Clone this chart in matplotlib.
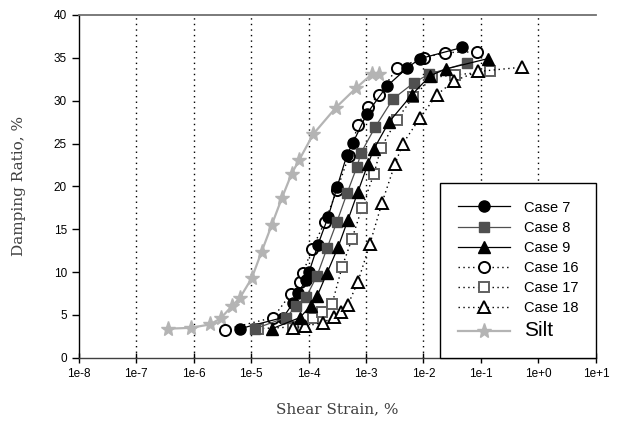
import numpy as np
import matplotlib
matplotlib.use("Agg")
import matplotlib.pyplot as plt
from matplotlib.ticker import FixedLocator, FixedFormatter

plt.rcParams['font.family'] = ['Liberation Sans', 'DejaVu Sans']

# data (strain %, damping %)
case7_x = [6.4e-6, 3.6e-5, 5.4e-5, 6.6e-5, 9.1e-5, 1.02e-4, 1.46e-4, 2.18e-4, 3.13e-4,
           4.68e-4, 5.94e-4, 1.04e-3, 2.32e-3, 5.16e-3, 8.7e-3, 4.68e-2]
case7_y = [3.4, 4.7, 6.4, 7.6, 9.1, 10.0, 13.2, 16.4, 19.9, 23.7, 25.1, 28.5, 31.7, 33.8, 34.9, 36.2]

case8_x = [1.17e-5, 4.06e-5, 6.07e-5, 9.1e-5, 1.41e-4, 2.1e-4, 3.13e-4, 4.68e-4, 6.97e-4,
           8.18e-4, 1.44e-3, 2.95e-3, 6.84e-3, 1.25e-2, 5.7e-2]
case8_y = [3.4, 4.7, 6.0, 7.1, 9.6, 12.8, 15.9, 19.2, 22.3, 23.9, 26.9, 30.2, 32.1, 33.1, 34.4]

case9_x = [2.32e-5, 7.1e-5, 1.10e-4, 1.41e-4, 2.1e-4, 3.26e-4, 4.86e-4, 7.26e-4, 1.08e-3,
           1.38e-3, 2.51e-3, 6.31e-3, 1.30e-2, 2.46e-2, 0.132]
case9_y = [3.4, 4.7, 6.1, 7.2, 9.9, 12.9, 16.1, 19.4, 22.6, 24.4, 27.5, 30.7, 32.9, 33.7, 34.9]

case16_x = [3.53e-6, 2.42e-5, 4.97e-5, 7.1e-5, 8.0e-5, 1.15e-4, 1.94e-4, 3.13e-4, 5.06e-4,
            7.26e-4, 1.08e-3, 1.68e-3, 3.46e-3, 1.02e-2, 2.37e-2, 8.5e-2]
case16_y = [3.3, 4.7, 7.5, 8.9, 9.9, 12.7, 15.9, 19.6, 23.6, 27.2, 29.3, 30.7, 33.8, 35.0, 35.6, 35.7]

case17_x = [1.32e-5, 5.4e-5, 1.20e-4, 1.72e-4, 2.57e-4, 3.83e-4, 5.72e-4, 8.51e-4, 1.38e-3,
            1.82e-3, 3.46e-3, 6.56e-3, 1.41e-2, 3.53e-2, 0.144]
case17_y = [3.4, 3.6, 4.6, 5.3, 6.3, 10.6, 13.9, 17.5, 21.5, 24.5, 27.8, 30.4, 32.7, 33.0, 33.4]

case18_x = [5.4e-5, 8.69e-5, 1.79e-4, 2.77e-4, 3.67e-4, 4.86e-4, 7.26e-4, 1.17e-3, 1.90e-3,
            3.19e-3, 4.40e-3, 8.7e-3, 1.72e-2, 3.39e-2, 8.87e-2, 0.516]
case18_y = [3.5, 3.7, 4.1, 4.8, 5.3, 6.2, 8.9, 13.3, 18.1, 22.6, 25.0, 28.0, 30.7, 32.3, 33.4, 33.9]

silt_x = [3.65e-7, 8.9e-7, 1.94e-6, 2.95e-6, 4.6e-6, 6.4e-6, 1.03e-5, 1.53e-5, 2.29e-5,
          3.42e-5, 5.1e-5, 6.9e-5, 1.21e-4, 3.0e-4, 6.8e-4, 1.27e-3, 1.68e-3]
silt_y = [3.4, 3.5, 3.9, 4.6, 6.0, 7.0, 9.3, 12.4, 15.5, 18.6, 21.5, 23.1, 26.1, 29.2, 31.5, 33.1, 33.1]

xtick_vals = [1e-8, 1e-7, 1e-6, 1e-5, 1e-4, 1e-3, 1e-2, 1e-1, 1e0, 1e1]
xtick_labels = ['1e-8', '1e-7', '1e-6', '1e-5', '1e-4', '1e-3', '1e-2', '1e-1', '1e+0', '1e+1']

fig = plt.figure(figsize=(6.24, 4.26), dpi=100)
ax = fig.add_axes([0.126, 0.160, 0.829, 0.805])

dot = (0, (1, 2.5))
ax.plot(case7_x, case7_y, color='black', lw=0.9, marker='o', ms=8,
        mfc='black', mec='black', label='Case 7', zorder=5)
ax.plot(case8_x, case8_y, color='#505050', lw=0.9, marker='s', ms=7.5,
        mfc='#505050', mec='#505050', label='Case 8', zorder=5)
ax.plot(case9_x, case9_y, color='black', lw=0.9, marker='^', ms=8,
        mfc='black', mec='black', label='Case 9', zorder=5)
ax.plot(case16_x, case16_y, color='black', lw=1.0, ls=dot, marker='o', ms=8,
        mfc='white', mec='black', mew=1.4, label='Case 16', zorder=4)
ax.plot(case17_x, case17_y, color='black', lw=1.0, ls=dot, marker='s', ms=7.5,
        mfc='white', mec='#606060', mew=1.4, label='Case 17', zorder=4)
ax.plot(case18_x, case18_y, color='black', lw=1.0, ls=dot, marker='^', ms=8,
        mfc='white', mec='black', mew=1.4, label='Case 18', zorder=4)
ax.plot(silt_x, silt_y, color='#b4b4b4', lw=1.6, marker='*', ms=11,
        mfc='#b4b4b4', mec='#b4b4b4', label='Silt', zorder=3)

ax.set_xscale('log')
ax.set_xlim(1e-8, 1e1)
ax.set_ylim(0, 40)
ax.xaxis.set_major_locator(FixedLocator(xtick_vals))
ax.xaxis.set_major_formatter(FixedFormatter(xtick_labels))
ax.xaxis.set_minor_locator(FixedLocator([]))
ax.set_yticks(np.arange(0, 41, 5))

ax.grid(axis='x', color='black', ls=(0, (1, 3)), lw=1.0)
gl = ax.get_xgridlines()
gl[0].set_visible(False)
gl[-1].set_visible(False)

ax.spines['right'].set_visible(False)
ax.spines['top'].set_color('#707070')
ax.spines['top'].set_linewidth(1.3)
ax.spines['left'].set_linewidth(1.0)
ax.spines['bottom'].set_linewidth(1.0)
ax.spines['bottom'].set_color('#404040')

ax.tick_params(axis='x', direction='inout', length=7, width=1, labelsize=8.5, pad=4)
ax.tick_params(axis='y', direction='out', length=5, width=1, labelsize=8.5)

ax.set_xlabel('Shear Strain, %', family=['DejaVu Serif'],
              fontsize=11, color='#404040', labelpad=16)
ax.set_ylabel('Damping Ratio, %', family=['DejaVu Serif'],
              fontsize=11, color='#404040', labelpad=20)

leg = ax.legend(loc='lower right', borderaxespad=0, fancybox=False, framealpha=1,
                edgecolor='black', fontsize=10.5, handlelength=3.6, handletextpad=0.95,
                labelspacing=0.42, borderpad=1.2)
leg.get_frame().set_linewidth(1.0)
leg.get_texts()[-1].set_fontsize(15)

fig.savefig('out.png', dpi=100)
